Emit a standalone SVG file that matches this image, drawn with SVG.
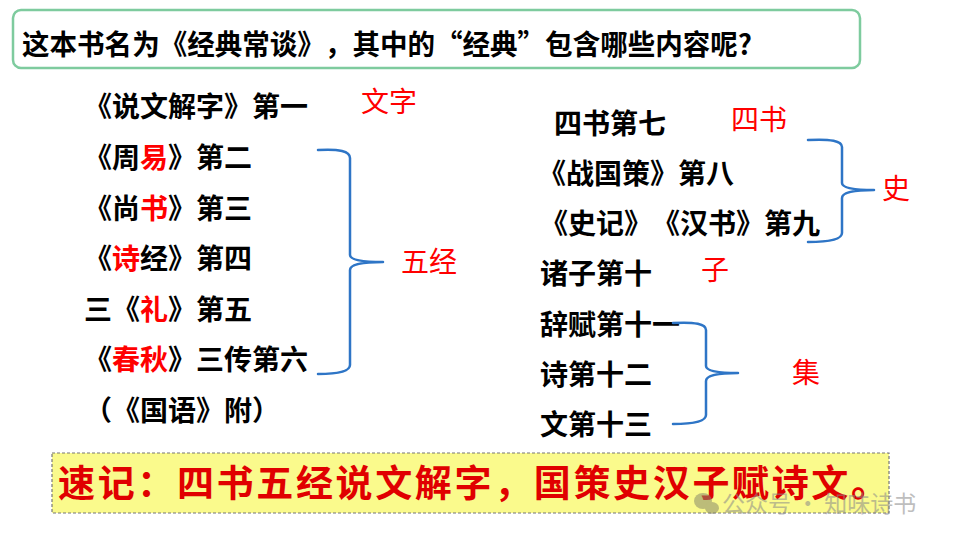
<svg xmlns="http://www.w3.org/2000/svg" width="960" height="540" viewBox="0 0 960 540">
<style>
svg{text-spacing-trim:space-all}
.t{font-family:"Noto Sans CJK SC","Noto Sans",sans-serif;font-weight:700;font-size:28px;fill:#000;text-spacing-trim:space-all}
.r{fill:#ff0000}
.lab{font-family:"Noto Sans CJK SC","Noto Sans",sans-serif;font-weight:400;font-size:28px;fill:#ff0000}
.br{fill:none;stroke:#2e75c6;stroke-width:2.5;stroke-linecap:round;stroke-linejoin:round}
</style>
<rect width="960" height="540" fill="#fff"/>
<g id="title">
<rect x="13" y="10" width="847" height="58" rx="8" fill="#fff" stroke="#7ecb9e" stroke-width="2.5"/>
<text class="t" x="22" y="55" font-size="27" textLength="730" lengthAdjust="spacingAndGlyphs">这本书名为《经典常谈》，其中的“经典”包含哪些内容呢?</text>
</g>
<g id="left-list">
<text class="t" x="84" y="117">《说文解字》第一</text>
<text class="t" x="84" y="168">《周<tspan class="r">易</tspan>》第二</text>
<text class="t" x="84" y="219">《尚<tspan class="r">书</tspan>》第三</text>
<text class="t" x="84" y="269">《<tspan class="r">诗</tspan>经》第四</text>
<text class="t" x="84" y="320">三《<tspan class="r">礼</tspan>》第五</text>
<text class="t" x="84" y="370">《<tspan class="r">春秋</tspan>》三传第六</text>
<text class="t" x="84" y="421">（《国语》附）</text>
</g>
<g id="right-list">
<text class="t" x="554" y="134">四书第七</text>
<text class="t" x="538" y="184">《战国策》第八</text>
<text class="t" x="540" y="234">《史记》《汉书》第九</text>
<text class="t" x="540" y="284">诸子第十</text>
<text class="t" x="540" y="335">辞赋第十一</text>
<text class="t" x="540" y="385">诗第十二</text>
<text class="t" x="540" y="435">文第十三</text>
</g>
<g id="labels">
<text class="lab" x="361" y="112">文字</text>
<text class="lab" x="401" y="272">五经</text>
<text class="lab" x="731" y="130">四书</text>
<text class="lab" x="882" y="199">史</text>
<text class="lab" x="701" y="280">子</text>
<text class="lab" x="792" y="383">集</text>
</g>
<g id="connectors">
<path class="br" d="M318 150 Q350 148 350 158 L350 255 Q350 262 383 262 Q350 262 350 270 L350 365 Q350 374 318 374"/>
<path class="br" d="M808 140 Q842 138 842 147 L842 183 Q842 190 874 190 Q842 190 842 198 L842 233 Q842 242 808 242"/>
<path class="br" d="M673 323 Q706 321 706 330 L706 366 Q706 373 738 373 Q706 373 706 381 L706 415 Q706 424 673 424"/>
</g>
<g id="mnemonic">
<rect x="52" y="453" width="837" height="60" fill="#fafa8c" stroke="#777" stroke-width="1.2" stroke-dasharray="3,2"/>
<text x="58" y="497" font-family="Noto Sans CJK SC, sans-serif" font-weight="700" font-size="37" fill="#e00000" textLength="830" lengthAdjust="spacing">速记：四书五经说文解字，国策史汉子赋诗文。</text>
</g>
<g id="watermark" opacity="0.55">
<ellipse cx="703" cy="501" rx="9" ry="8" fill="#8a8a6a"/>
<ellipse cx="712" cy="508" rx="7" ry="6" fill="#8a8a6a"/>
<text x="722" y="512" font-family="Noto Sans CJK SC, sans-serif" font-size="23" fill="#8a8a8a">公众号 · 知味诗书</text>
</g>
</svg>
